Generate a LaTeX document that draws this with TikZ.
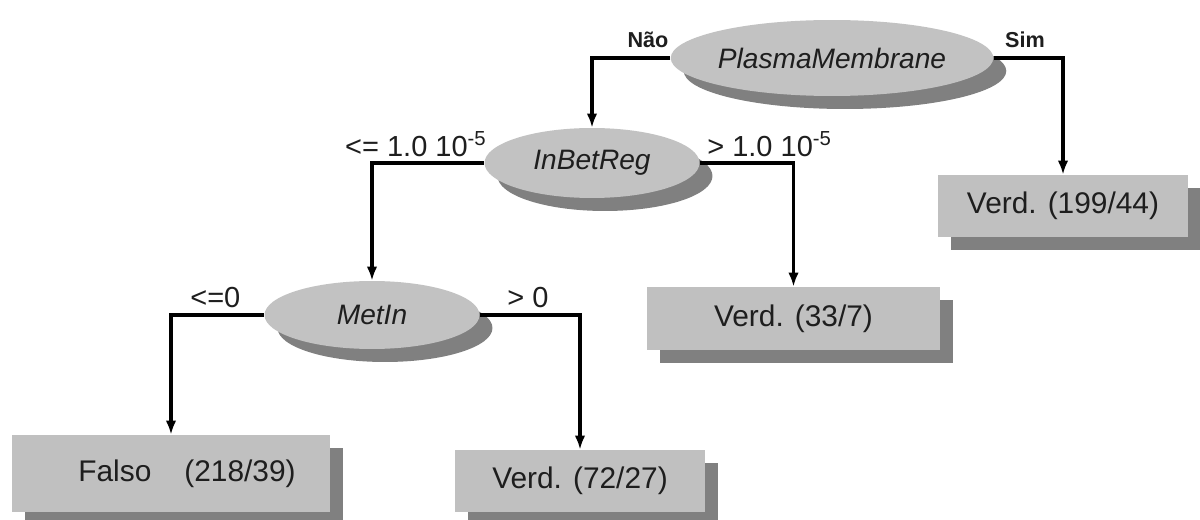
\documentclass[tikz,border=0pt]{standalone}
\usepackage{fontspec}
\setmainfont{Liberation Sans}
\usetikzlibrary{shapes.geometric,shadows,arrows.meta}
\definecolor{ellfill}{HTML}{C2C2C2}
\definecolor{boxfill}{HTML}{C0C0C0}
\definecolor{shd}{HTML}{808080}
\definecolor{txt}{HTML}{1E1E1E}
\begin{document}
\begin{tikzpicture}[x=0.02cm,y=-0.02cm,
  every node/.style={text=txt},
  cond/.style={ellipse,fill=ellfill,inner sep=0pt,
    font=\fontsize{16}{19}\selectfont\itshape,
    general shadow={fill=shd,shadow xshift=0.26cm,shadow yshift=-0.26cm}},
  leaf/.style={rectangle,fill=boxfill,inner sep=0pt,
    font=\fontsize{17}{20}\selectfont,
    general shadow={fill=shd,shadow xshift=0.26cm,shadow yshift=-0.26cm}},
  lbl/.style={inner sep=0pt,font=\fontsize{16.5}{19}\selectfont},
  blbl/.style={inner sep=0pt,font=\fontsize{12.3}{15}\selectfont\bfseries},
  conn/.style={line width=2pt,-{Latex[length=8pt,width=6pt]}}]
\useasboundingbox[fill=white] (0,0) rectangle (1200,520);

\node[cond,minimum width=5.4cm,minimum height=1.52cm] (pm) at (832,58) {PlasmaMembrane};
\node[cond,minimum width=4.3cm,minimum height=1.4cm] (inb) at (592,163) {InBetReg};
\node[cond,minimum width=4.3cm,minimum height=1.36cm] (met) at (372,315) {MetIn};

\node[leaf,minimum width=5.0cm,minimum height=1.24cm] (b199) at (1063,206) {Verd. (199/44)};
\node[leaf,minimum width=5.86cm,minimum height=1.26cm] (b33) at (793.5,318.5) {Verd. (33/7)};
\node[leaf,minimum width=6.36cm,minimum height=1.54cm] (bf) at (171,473.5) {\hspace*{0.64cm}Falso\hspace{0.66cm}(218/39)};
\node[leaf,minimum width=5.0cm,minimum height=1.24cm] (b72) at (580,481) {Verd. (72/27)};

\draw[conn] (pm.west) -| (inb.north);
\draw[conn] (pm.east) -| (b199.north);
\draw[conn] (inb.west) -| (met.north);
\draw[conn] (inb.east) -| (b33.north);
\draw[conn] (met.west) -| (bf.north);
\draw[conn] (met.east) -| (b72.north);

\node[blbl,anchor=base] (lnao) at (648,48) {Não};
\node[blbl,anchor=base] (lsim) at (1025,48) {Sim};
\node[lbl,anchor=base east] (lle) at (487,157) {<= 1.0 10\textsuperscript{-5}};
\node[lbl,anchor=base west] (lgt) at (707,157) {> 1.0 10\textsuperscript{-5}};
\node[lbl,anchor=base west] (lle0) at (190,307) {<=0};
\node[lbl,anchor=base west] (lgt0) at (507,307) {> 0};
\end{tikzpicture}
\end{document}
